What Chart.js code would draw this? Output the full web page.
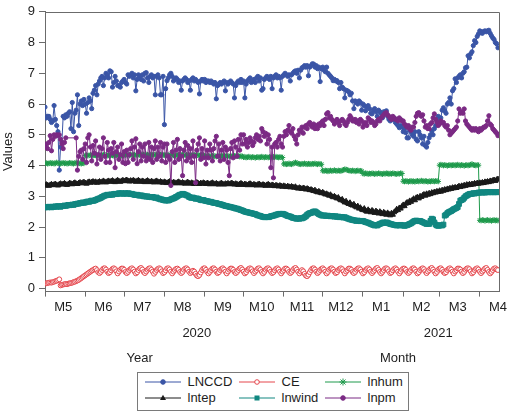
<!DOCTYPE html>
<html><head><meta charset="utf-8">
<script src="https://cdn.jsdelivr.net/npm/chart.js@4/dist/chart.umd.min.js"></script>
<style>
html,body{margin:0;padding:0;background:#fff;}
#wrap{position:relative;width:510px;height:414px;}
#legend{position:absolute;left:137px;top:372px;width:272px;height:39px;border:1px solid #7a7a7a;box-sizing:border-box;background:#fff;font-family:Arial,"Liberation Sans",sans-serif;font-size:13px;color:#1e1e1e;}
.item{position:absolute;display:flex;align-items:center;height:16px;white-space:nowrap;line-height:16px;}
.item svg{margin-right:6.5px;flex:none;}
</style></head><body>
<div id="wrap"><canvas id="c" width="510" height="414"></canvas><div id="legend"></div></div>
<script>
// ---- axis / category data ----
const startDate = '2020-05-01';
const monthStarts = ['2020-05-01','2020-06-01','2020-07-01','2020-08-01','2020-09-01','2020-10-01','2020-11-01','2020-12-01','2021-01-01','2021-02-01','2021-03-01','2021-04-01'];
const monthLabels = ['M5','M6','M7','M8','M9','M10','M11','M12','M1','M2','M3','M4'];
const yearLabels = ['2020','2021'];
const yearLabelDates = ['2020-08-26','2021-02-28'];
const captionLabels = ['Year','Month'];
const captionDates = ['2020-07-13','2021-01-28'];
const yTickValues = [0,1,2,3,4,5,6,7,8,9];
const seriesNames = ['LNCCD','CE','lnhum','lntep','lnwind','lnpm'];

// ---- daily series values (2020-05-01 .. 2021-04-15) ----
const LNCCD = [
5.9,5.55,5.6,5.6,5.5,5.4,5.45,
5.95,5.5,5.3,5.1,3.85,4.6,4.75,
5.6,5.55,5.65,5.6,5.7,5.75,5.2,
6.05,5.1,5.7,5.8,6.3,5.3,6.0,
6.1,5.95,6.15,6.0,5.7,6.05,6.2,
6.1,5.85,6.35,6.45,6.6,6.3,6.65,
6.75,6.85,6.9,6.6,6.85,7.0,6.95,
6.85,7.08,7.05,6.55,6.7,6.9,6.75,
6.6,6.6,6.55,6.7,6.75,6.8,6.7,
6.65,6.95,6.9,6.95,7.0,6.85,6.95,
6.43,6.8,6.95,6.9,6.8,6.95,6.75,
7.0,7.02,6.85,6.7,6.9,6.95,6.85,
6.9,6.3,6.9,6.95,6.85,6.3,6.3,
6.9,5.33,6.5,6.76,6.85,6.95,7.0,
6.9,6.75,6.8,6.85,6.8,6.7,6.75,
6.45,6.75,6.8,6.85,6.8,6.7,6.75,
6.45,6.8,6.85,6.75,6.8,6.75,6.7,
6.33,6.75,6.8,6.75,6.8,6.7,6.75,
6.75,6.7,6.75,6.7,6.65,6.7,6.17,
6.6,6.65,6.7,6.65,6.7,6.75,6.43,
6.7,6.65,6.7,6.75,6.7,6.65,6.2,
6.6,6.7,6.75,6.7,6.8,6.7,6.75,
6.2,6.65,6.75,6.8,6.85,6.7,6.75,
6.8,6.7,6.85,6.9,6.75,6.85,6.45,
6.5,6.8,6.85,6.9,6.85,6.8,6.9,
6.5,6.85,6.9,6.95,6.85,6.9,6.85,
6.45,6.9,6.95,7.0,6.95,6.9,6.95,
6.75,6.95,7.0,7.05,7.08,7.0,7.1,
6.85,7.1,7.18,7.2,7.25,7.2,7.25,
6.92,7.2,7.25,7.31,7.3,7.2,7.25,
7.15,7.2,6.73,7.15,7.2,7.1,7.05,
7.2,7.0,6.95,6.9,6.85,6.76,6.8,
6.75,6.76,6.7,6.5,6.7,6.55,6.5,
6.2,6.45,6.43,6.4,6.3,6.35,6.1,
5.85,6.1,6.05,6.0,6.1,6.05,5.8,
6.0,5.95,5.78,5.9,5.95,5.85,5.7,
5.68,5.8,5.85,5.75,5.6,5.8,5.75,
5.7,5.55,5.75,5.7,5.78,5.6,5.5,
5.45,5.55,5.5,5.55,5.4,5.35,5.3,
5.23,5.3,5.25,5.1,5.2,5.07,4.9,
4.9,5.15,5.1,5.0,4.95,5.1,4.85,
4.8,5.1,5.0,4.9,4.7,4.95,4.65,
4.6,4.75,4.9,5.0,5.13,5.0,5.2,
5.3,5.45,5.6,5.4,5.55,5.8,5.88,
5.78,5.7,6.0,6.05,6.2,6.0,6.43,
6.5,6.82,6.7,6.85,6.9,6.95,6.85,
7.0,7.05,7.18,7.2,7.57,7.5,7.63,
7.7,7.9,8.06,8.0,8.2,8.28,8.38,
8.35,8.3,8.36,8.38,8.35,8.38,8.4,
8.3,8.22,8.15,8.1,8.0,7.96,7.83];

const CE = [
0.16,0.17,0.18,0.19,0.2,0.19,0.21,
0.22,0.24,0.25,0.27,0.3,0.1,0.12,
0.13,0.14,0.15,0.14,0.16,0.17,0.18,
0.19,0.21,0.22,0.24,0.26,0.28,0.31,
0.34,0.37,0.4,0.43,0.46,0.49,0.52,
0.55,0.58,0.6,0.63,0.65,0.6,0.53,
0.5,0.54,0.6,0.65,0.66,0.62,0.55,
0.5,0.53,0.59,0.64,0.66,0.63,0.56,
0.49,0.55,0.61,0.65,0.65,0.61,0.54,
0.5,0.54,0.6,0.64,0.66,0.62,0.55,
0.49,0.53,0.6,0.65,0.67,0.62,0.54,
0.5,0.55,0.61,0.65,0.66,0.61,0.55,
0.48,0.54,0.6,0.64,0.66,0.63,0.56,
0.5,0.53,0.59,0.65,0.66,0.62,0.55,
0.49,0.55,0.6,0.64,0.65,0.61,0.54,
0.5,0.54,0.61,0.65,0.66,0.62,0.55,
0.5,0.54,0.58,0.55,0.48,0.42,0.4,
0.44,0.52,0.6,0.65,0.66,0.61,0.54,
0.49,0.54,0.6,0.65,0.66,0.62,0.55,
0.5,0.53,0.6,0.64,0.66,0.62,0.55,
0.49,0.55,0.61,0.65,0.65,0.61,0.54,
0.5,0.54,0.6,0.65,0.67,0.62,0.55,
0.49,0.53,0.6,0.64,0.66,0.63,0.56,
0.5,0.55,0.6,0.65,0.66,0.61,0.54,
0.49,0.54,0.61,0.65,0.66,0.62,0.55,
0.5,0.53,0.59,0.64,0.66,0.62,0.55,
0.49,0.55,0.6,0.65,0.65,0.61,0.54,
0.5,0.54,0.6,0.65,0.67,0.62,0.55,
0.49,0.55,0.6,0.56,0.48,0.42,0.4,
0.45,0.53,0.6,0.65,0.66,0.62,0.55,
0.5,0.54,0.6,0.64,0.66,0.62,0.55,
0.49,0.54,0.61,0.65,0.66,0.62,0.55,
0.5,0.53,0.6,0.64,0.66,0.63,0.56,
0.49,0.55,0.6,0.65,0.65,0.61,0.54,
0.5,0.54,0.61,0.65,0.66,0.62,0.55,
0.49,0.53,0.6,0.64,0.66,0.62,0.55,
0.5,0.55,0.6,0.65,0.67,0.61,0.54,
0.49,0.54,0.6,0.65,0.66,0.63,0.56,
0.5,0.53,0.59,0.64,0.66,0.62,0.55,
0.49,0.55,0.61,0.65,0.65,0.61,0.54,
0.5,0.54,0.6,0.65,0.66,0.62,0.55,
0.49,0.53,0.6,0.64,0.66,0.63,0.56,
0.5,0.55,0.6,0.65,0.67,0.62,0.55,
0.49,0.54,0.61,0.65,0.66,0.61,0.54,
0.5,0.53,0.6,0.64,0.66,0.62,0.55,
0.49,0.55,0.6,0.65,0.65,0.62,0.55,
0.5,0.54,0.61,0.65,0.66,0.63,0.56,
0.49,0.53,0.6,0.64,0.66,0.62,0.55,
0.5,0.55,0.6,0.65,0.67,0.61,0.54,
0.49,0.54,0.6,0.65,0.66,0.62,0.6];

const lnhum = [
// May
4.07,4.08,4.06,4.07,4.09,4.07,4.08,4.06,4.07,4.10,
4.08,4.07,4.06,4.08,4.09,4.07,4.08,4.06,4.07,4.09,
4.08,4.07,4.06,4.08,4.10,4.07,4.08,4.07,4.06,4.08,
4.07,
// Jun
4.33,4.34,4.32,4.33,4.35,4.33,4.32,4.34,4.33,4.35,
4.34,4.33,4.32,4.34,4.36,4.33,4.34,4.32,4.33,4.35,
4.34,4.33,4.32,4.34,4.33,4.35,4.34,4.33,4.32,4.34,
// Jul
4.35,4.34,4.36,4.35,4.33,4.35,4.36,4.34,4.35,4.33,
4.35,4.36,4.34,4.35,4.37,4.35,4.34,4.36,4.35,4.33,
4.35,4.34,4.36,4.35,4.34,4.36,4.35,4.33,4.35,4.34,
4.35,
// Aug
4.34,4.33,4.35,4.34,4.32,4.34,4.35,4.33,4.34,4.32,
4.34,4.35,4.33,4.34,4.36,4.34,4.33,4.35,4.34,4.32,
4.34,4.33,4.35,4.34,4.33,4.35,4.34,4.32,4.34,4.33,
4.34,
// Sep
4.31,4.30,4.32,4.31,4.29,4.31,4.32,4.30,4.31,4.29,
4.31,4.32,4.30,4.31,4.33,4.31,4.30,4.32,4.31,4.29,
4.31,4.30,4.32,4.31,4.30,4.32,4.31,4.29,4.31,4.30,
// Oct
4.27,4.28,4.26,4.27,4.29,4.27,4.26,4.28,4.27,4.25,
4.27,4.28,4.26,4.27,4.29,4.27,4.26,4.28,4.27,4.26,
4.28,4.27,4.26,4.28,4.27,4.29,4.27,4.26,4.28,4.27,
4.26,
// Nov
4.05,4.06,4.04,4.05,4.07,4.05,4.04,4.06,4.08,4.10,
4.08,4.06,4.05,4.04,4.06,4.05,4.07,4.05,4.04,4.06,
4.05,4.04,4.06,4.05,4.07,4.05,4.04,4.06,4.05,4.04,
// Dec
3.83,3.82,3.84,3.83,3.81,3.83,3.84,3.82,3.83,3.85,
3.83,3.82,3.84,3.83,3.82,3.84,3.86,3.88,3.87,3.85,
3.84,3.83,3.82,3.84,3.83,3.81,3.83,3.84,3.82,3.83,
3.82,
// Jan
3.74,3.73,3.75,3.74,3.72,3.74,3.73,3.75,3.74,3.72,
3.74,3.73,3.75,3.74,3.73,3.72,3.74,3.73,3.75,3.74,
3.72,3.74,3.73,3.75,3.74,3.73,3.72,3.74,3.73,3.75,
3.74,
// Feb
3.49,3.48,3.50,3.49,3.47,3.49,3.50,3.48,3.49,3.47,
3.49,3.50,3.48,3.49,3.51,3.49,3.48,3.50,3.49,3.47,
3.49,3.48,3.50,3.49,3.48,3.50,3.49,3.48,
// Mar
4.01,4.03,4.02,4.00,4.02,4.01,3.99,4.01,4.02,4.00,
4.01,4.02,4.00,4.01,4.03,4.01,4.00,4.02,4.01,3.99,
4.01,4.02,4.00,4.01,4.03,4.05,4.02,4.01,4.00,4.02,
4.01,
// Apr
2.22,2.21,2.23,2.22,2.20,2.22,2.23,2.21,2.22,2.20,
2.22,2.23,2.21,2.22,2.21];

const lntep = [
3.35,3.38,3.36,3.34,3.37,3.39,3.36,
3.38,3.4,3.37,3.35,3.39,3.41,3.38,
3.4,3.42,3.39,3.37,3.4,3.43,3.41,
3.39,3.42,3.44,3.41,3.4,3.43,3.45,
3.42,3.44,3.46,3.43,3.41,3.45,3.47,
3.44,3.46,3.48,3.45,3.47,3.44,3.46,
3.48,3.45,3.47,3.5,3.47,3.45,3.48,
3.5,3.47,3.49,3.51,3.48,3.46,3.5,
3.52,3.49,3.47,3.5,3.52,3.49,3.51,
3.53,3.5,3.48,3.51,3.49,3.52,3.5,
3.47,3.5,3.52,3.49,3.47,3.5,3.48,
3.46,3.49,3.51,3.48,3.46,3.49,3.47,
3.45,3.48,3.5,3.47,3.45,3.48,3.46,
3.44,3.47,3.45,3.43,3.46,3.48,3.45,
3.43,3.46,3.44,3.42,3.45,3.47,3.44,
3.42,3.45,3.43,3.41,3.44,3.46,3.43,
3.41,3.44,3.42,3.4,3.43,3.45,3.42,
3.4,3.43,3.41,3.44,3.42,3.4,3.43,
3.41,3.39,3.42,3.44,3.41,3.39,3.42,
3.4,3.38,3.41,3.43,3.4,3.38,3.41,
3.4,3.42,3.39,3.41,3.43,3.4,3.38,
3.41,3.39,3.37,3.4,3.42,3.39,3.37,
3.4,3.38,3.36,3.39,3.41,3.38,3.36,
3.39,3.37,3.35,3.38,3.4,3.37,3.35,
3.38,3.36,3.34,3.37,3.39,3.36,3.34,
3.37,3.35,3.33,3.36,3.34,3.32,3.35,
3.33,3.31,3.34,3.32,3.3,3.33,3.31,
3.29,3.32,3.3,3.28,3.31,3.27,3.25,
3.28,3.26,3.24,3.27,3.25,3.22,3.25,
3.23,3.2,3.22,3.19,3.17,3.2,3.15,
3.13,3.16,3.12,3.1,3.13,3.09,3.06,
3.08,3.05,3.02,3.05,3.0,2.97,3.0,
2.96,2.93,2.96,2.9,2.87,2.9,2.84,
2.8,2.84,2.78,2.75,2.79,2.72,2.7,
2.74,2.67,2.64,2.68,2.6,2.63,2.57,
2.55,2.6,2.53,2.5,2.56,2.52,2.48,
2.54,2.5,2.46,2.52,2.48,2.44,2.5,
2.46,2.42,2.48,2.44,2.4,2.46,2.42,
2.38,2.45,2.4,2.48,2.52,2.58,2.55,
2.62,2.6,2.67,2.72,2.68,2.76,2.8,
2.78,2.85,2.82,2.88,2.92,2.87,2.95,
2.97,2.93,3.0,2.98,3.03,3.06,3.02,
3.08,3.05,3.1,3.07,3.12,3.1,3.14,
3.12,3.16,3.14,3.18,3.15,3.2,3.18,
3.22,3.2,3.24,3.22,3.26,3.24,3.28,
3.26,3.29,3.27,3.3,3.33,3.3,3.34,
3.32,3.36,3.34,3.38,3.36,3.39,3.37,
3.4,3.38,3.42,3.4,3.43,3.41,3.44,
3.42,3.45,3.43,3.47,3.45,3.48,3.46,
3.5,3.48,3.51,3.53,3.5,3.54,3.56];

const lnwind = [
2.64,2.65,2.64,2.66,2.65,2.64,2.66,
2.66,2.67,2.66,2.68,2.67,2.66,2.68,
2.68,2.7,2.69,2.7,2.72,2.71,2.72,
2.73,2.72,2.74,2.75,2.76,2.76,2.78,
2.78,2.8,2.79,2.8,2.82,2.83,2.82,
2.84,2.86,2.85,2.86,2.88,2.9,2.92,
2.93,2.95,2.98,3.0,3.02,3.03,3.05,
3.04,3.05,3.06,3.05,3.07,3.08,3.07,
3.08,3.1,3.09,3.1,3.08,3.09,3.1,
3.08,3.1,3.09,3.07,3.08,3.06,3.05,
3.04,3.05,3.03,3.02,3.03,3.02,3.0,
3.0,2.99,3.0,2.98,2.98,2.97,2.98,
2.96,2.95,2.96,2.93,2.92,2.9,2.9,
2.88,2.87,2.86,2.87,2.86,2.88,2.9,
2.92,2.93,2.95,2.98,3.0,3.03,3.05,
3.06,3.08,3.07,3.05,3.03,3.02,2.98,
2.96,2.95,2.96,2.94,2.92,2.93,2.92,
2.9,2.88,2.87,2.88,2.86,2.85,2.84,
2.83,2.82,2.82,2.8,2.79,2.78,2.78,
2.76,2.75,2.74,2.73,2.72,2.7,2.69,
2.68,2.67,2.66,2.65,2.64,2.63,2.62,
2.6,2.6,2.58,2.57,2.55,2.54,2.52,
2.5,2.49,2.48,2.47,2.46,2.45,2.44,
2.43,2.42,2.4,2.38,2.37,2.36,2.34,
2.33,2.32,2.32,2.33,2.32,2.33,2.35,
2.36,2.37,2.38,2.4,2.41,2.42,2.43,
2.42,2.43,2.42,2.4,2.38,2.36,2.35,
2.34,2.32,2.3,2.29,2.28,2.27,2.28,
2.27,2.29,2.28,2.3,2.32,2.35,2.4,
2.43,2.45,2.46,2.48,2.5,2.51,2.48,
2.45,2.42,2.4,2.38,2.37,2.38,2.37,
2.36,2.37,2.36,2.35,2.36,2.35,2.34,
2.35,2.33,2.34,2.32,2.33,2.32,2.31,
2.32,2.3,2.28,2.27,2.25,2.24,2.23,
2.22,2.21,2.2,2.21,2.2,2.19,2.2,
2.2,2.18,2.16,2.15,2.14,2.12,2.1,
2.08,2.07,2.05,2.06,2.05,2.08,2.1,
2.12,2.14,2.15,2.13,2.15,2.14,2.12,
2.1,2.09,2.08,2.07,2.06,2.05,2.06,
2.05,2.07,2.06,2.05,2.04,2.05,2.06,
2.08,2.1,2.12,2.15,2.18,2.2,2.21,
2.2,2.19,2.2,2.18,2.16,2.14,2.12,
2.1,2.11,2.1,2.2,2.27,2.25,2.15,
2.08,2.05,2.04,2.05,2.06,2.05,2.08,
2.37,2.4,2.45,2.48,2.5,2.52,2.55,
2.58,2.6,2.62,2.65,2.75,2.86,2.88,
2.9,2.95,3.0,3.02,3.05,3.07,3.08,
3.08,3.1,3.09,3.1,3.11,3.12,3.12,
3.13,3.12,3.13,3.12,3.13,3.14,3.13,
3.14,3.13,3.14,3.13,3.14,3.13,3.14];

const lnpm = [
4.6,4.7,4.55,4.75,4.97,4.48,4.85,
5.0,4.95,5.0,4.98,5.0,4.85,4.7,
4.55,4.75,4.9,null,null,null,null,
null,null,null,4.9,3.85,4.3,4.45,
4.5,4.2,4.55,4.7,4.1,4.9,5.0,
4.6,4.15,4.65,4.4,4.8,4.05,4.35,
4.6,4.2,4.55,4.9,4.3,4.1,4.75,
4.5,4.1,4.55,4.4,4.75,3.93,4.45,
4.6,4.2,4.35,4.7,4.1,4.45,4.06,
4.5,4.1,4.35,4.55,4.8,4.2,4.6,
4.87,4.06,4.45,4.7,4.15,4.6,4.3,
4.7,4.15,4.25,4.75,4.2,4.6,4.1,
4.55,4.8,4.2,4.6,4.3,4.75,4.15,
4.6,4.7,4.1,4.7,4.3,4.2,3.35,
4.45,4.75,4.1,4.5,4.85,4.2,4.55,
4.3,3.67,4.5,4.75,4.15,4.65,4.25,
4.55,4.1,4.8,4.3,3.44,4.5,4.7,
4.9,4.2,4.55,4.25,4.8,4.05,4.5,
4.25,4.7,4.5,4.15,4.55,4.8,4.95,
4.3,4.7,4.15,4.5,4.75,4.2,4.6,
4.5,4.1,3.67,4.55,4.75,4.25,4.8,
4.6,4.3,4.85,4.5,5.0,4.7,5.0,
4.7,4.85,4.6,4.75,4.9,4.8,4.65,
4.75,4.9,5.0,4.85,4.95,4.8,5.2,
5.1,4.95,5.05,4.7,5.0,4.85,3.93,
4.6,3.6,4.7,4.75,4.6,4.85,4.95,
4.7,4.6,4.95,5.1,5.0,5.15,5.3,
5.1,5.05,5.2,4.95,4.85,4.7,5.0,
5.15,5.1,5.25,5.05,5.25,5.3,5.2,
5.35,5.4,5.3,5.25,5.35,5.2,5.3,
5.2,5.35,5.3,5.4,5.45,5.3,5.5,
5.68,5.72,5.55,5.6,5.5,5.45,5.35,
5.45,5.5,5.4,5.3,5.45,5.5,5.45,
5.35,5.3,5.4,5.5,5.62,5.55,5.45,
5.45,5.5,5.4,5.45,5.35,5.5,5.45,
5.25,5.35,5.4,5.3,5.55,5.5,5.4,
5.45,5.4,5.3,5.35,5.45,5.5,5.45,
5.55,5.6,5.65,5.7,5.72,5.65,5.6,
5.55,5.5,5.6,5.55,5.5,5.5,5.45,
5.55,5.5,5.45,5.45,5.35,5.3,5.25,
5.3,5.2,5.15,5.25,5.25,5.4,5.6,
5.7,5.72,5.65,5.6,5.65,5.45,5.25,
5.3,5.2,5.2,5.35,5.4,5.55,5.68,
5.5,5.4,5.3,5.35,5.45,5.4,5.4,
5.3,5.25,5.3,5.15,5.0,5.05,5.1,
5.15,5.2,5.25,5.45,5.84,5.7,5.75,
5.7,5.84,5.45,5.35,5.3,5.25,5.2,
5.15,5.2,5.15,5.2,5.15,5.1,5.2,
5.15,5.2,5.25,5.25,5.3,5.45,5.62,
5.35,5.3,5.2,5.15,5.1,5.05,4.97];

// ---- styles ----
const FONT = 'Arial, "Liberation Sans", sans-serif';
const TXT = '#1e1e1e';
const AXC = '#6b6b6b';
const seriesValues = [LNCCD, CE, lnhum, lntep, lnwind, lnpm];
const seriesColors = ['#3a55a6','#e5474d','#1f9a4c','#1a1a1a','#118780','#7b2a84'];
const seriesFill = ['#3a55a6','#ffffff','#1f9a4c','#1a1a1a','#118780','#7b2a84'];
const seriesPointStyles = ['circle','circle','star','triangle','rect','circle'];
const seriesRadius = [2.1, 2.4, 2.8, 3, 3.4, 2.1];
const seriesOrder = [6, 5, 4, 3, 2, 1];

const DAY = 864e5;
const dayIndex = s => Math.round((Date.parse(s) - Date.parse(startDate)) / DAY);

// x-axis ticks: month boundaries (tick marks) and mid-month (labels)
const xTicks = [];
monthStarts.forEach((m, i) => {
  xTicks.push({v: dayIndex(m), label: '', mark: true});
  xTicks.push({v: dayIndex(m) + 14, label: monthLabels[i], mark: false});
});
const yearTicks = yearLabelDates.map((d, i) => ({v: dayIndex(d), label: yearLabels[i]}));
const capTicks = captionDates.map((d, i) => ({v: dayIndex(d), label: captionLabels[i]}));

const datasets = seriesNames.map((name, k) => ({
  label: name,
  data: seriesValues[k].map((v, i) => ({x: i, y: v})),
  borderColor: seriesColors[k],
  backgroundColor: seriesFill[k],
  borderWidth: 1,
  tension: 0,
  spanGaps: true,
  pointStyle: seriesPointStyles[k],
  pointRadius: seriesRadius[k],
  pointBorderWidth: 1,
  pointBackgroundColor: seriesFill[k],
  pointBorderColor: seriesColors[k],
  order: seriesOrder[k]
}));

const font13 = {family: FONT, size: 13};

const framePlugin = {
  id: 'frame',
  afterDraw(chart) {
    const {ctx, chartArea: a} = chart;
    ctx.save();
    ctx.strokeStyle = AXC;
    ctx.lineWidth = 1;
    ctx.beginPath();
    const t = Math.round(a.top) + 0.5, r = Math.round(a.right) + 0.5;
    ctx.moveTo(Math.round(a.left), t);
    ctx.lineTo(r, t);
    ctx.lineTo(r, Math.round(a.bottom));
    ctx.stroke();
    ctx.restore();
  }
};

const bottomAxis = (list, weight, pad, marks) => ({
  type: 'linear', position: 'bottom', min: 0, max: 350, weight: weight,
  afterBuildTicks: s => { s.ticks = list.map(t => ({value: t.v})); },
  ticks: {autoSkip: false, maxRotation: 0, minRotation: 0, padding: pad, font: font13, color: TXT,
          callback: (v, i) => list[i] ? list[i].label : ''},
  grid: marks ? {drawOnChartArea: false, drawTicks: true, tickLength: 5, tickWidth: 1,
                 tickColor: c => (list[c.index] && list[c.index].mark) ? AXC : 'rgba(0,0,0,0)'}
              : {display: false, drawTicks: false},
  border: marks ? {display: true, color: AXC, width: 1} : {display: false}
});

new Chart(document.getElementById('c'), {
  type: 'line',
  data: {datasets},
  options: {
    responsive: false, animation: false, devicePixelRatio: 1,
    parsing: true,
    layout: {padding: {top: 11, right: 8, bottom: 45, left: 0}},
    plugins: {legend: {display: false}, tooltip: {enabled: false}},
    scales: {
      x: bottomAxis(xTicks, 0, 3, true),
      xYear: bottomAxis(yearTicks, 1, 7.4, false),
      xCap: bottomAxis(capTicks, 2, 2.4, false),
      y: {
        min: -0.1, max: 9,
        afterBuildTicks: s => { s.ticks = yTickValues.map(v => ({value: v})); },
        afterFit: s => { s.width = 45; },
        ticks: {padding: 4, font: font13, color: TXT, callback: v => String(v)},
        grid: {drawOnChartArea: false, drawTicks: true, tickLength: 6, tickColor: AXC},
        border: {display: true, color: AXC, width: 1},
        title: {display: true, text: 'Values', font: font13, color: TXT, padding: {top: 1, bottom: 0}}
      }
    }
  },
  plugins: [framePlugin]
});

// ---- HTML legend ----
const legendEl = document.getElementById('legend');
const colLeft = [7, 101, 187];
const rowTop = [1, 17];
function markerSvg(k) {
  const c = seriesColors[k], f = seriesFill[k], st = seriesPointStyles[k];
  let m = '';
  if (st === 'circle') m = `<circle cx="18" cy="5" r="2.3" fill="${f}" stroke="${c}" stroke-width="1"/>`;
  else if (st === 'star') m = `<path d="M18 1.5V8.5M14.5 5H21.5M15.5 2.5L20.5 7.5M20.5 2.5L15.5 7.5" stroke="${c}" stroke-width="1"/>`;
  else if (st === 'triangle') m = `<path d="M18 1.8L21 7H15Z" fill="${c}"/>`;
  else if (st === 'rect') m = `<rect x="15.5" y="2.5" width="5" height="5" fill="${c}"/>`;
  return `<svg width="36" height="10" viewBox="0 0 36 10"><line x1="0" y1="5" x2="36" y2="5" stroke="${c}" stroke-width="1"/>${m}</svg>`;
}
seriesNames.forEach((name, k) => {
  const el = document.createElement('div');
  el.className = 'item';
  el.style.left = colLeft[k % 3] + 'px';
  el.style.top = rowTop[Math.floor(k / 3)] + 'px';
  el.innerHTML = markerSvg(k) + '<span>' + name + '</span>';
  legendEl.appendChild(el);
});
</script>
</body></html>
